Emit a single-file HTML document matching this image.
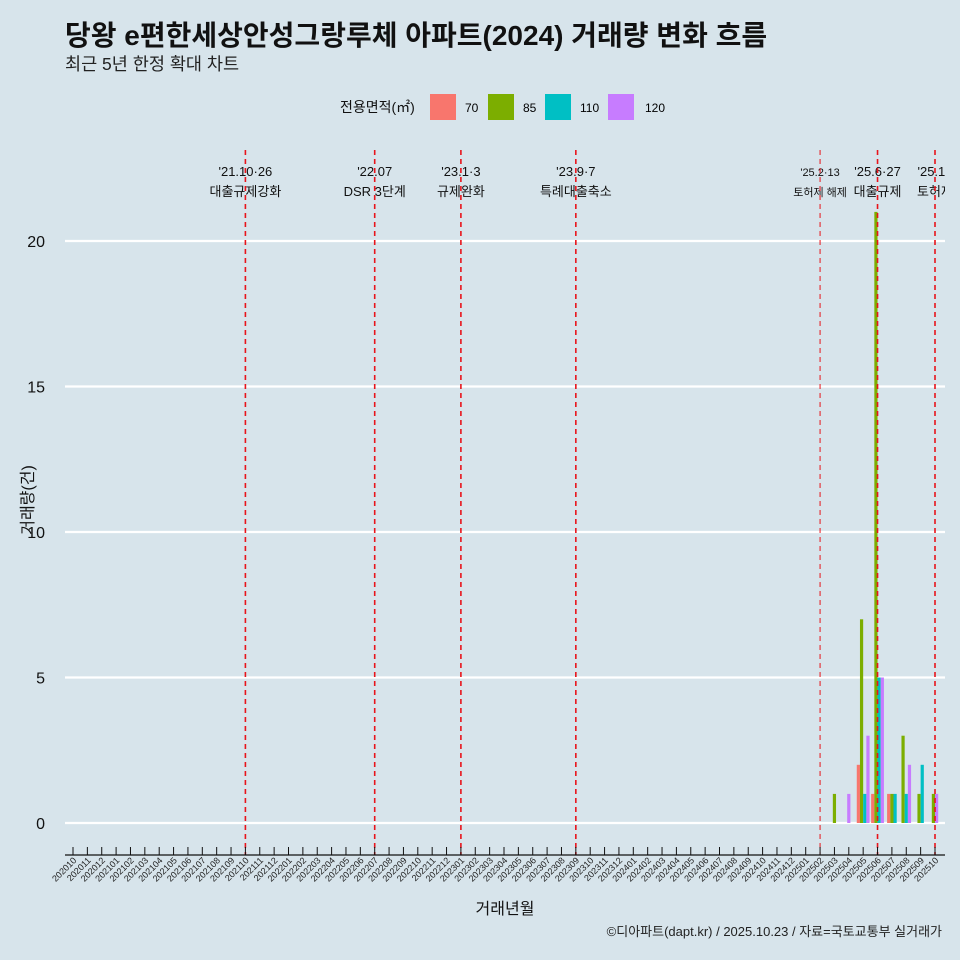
<!DOCTYPE html>
<html><head><meta charset="utf-8"><style>
html,body{margin:0;background:#d7e4eb;overflow:hidden;}
svg{display:block;}
svg text{font-family:"Liberation Sans","Noto Sans CJK KR",sans-serif;}
</style></head><body>
<svg id="c" width="960" height="960" xmlns="http://www.w3.org/2000/svg">
<defs><clipPath id="pc"><rect x="0" y="0" width="945" height="960"/></clipPath></defs>
<rect width="960" height="960" fill="#d7e4eb"/>
<text x="65" y="45" font-size="28" font-weight="bold" fill="#111">당왕 e편한세상안성그랑루체 아파트(2024) 거래량 변화 흐름</text>
<text x="65" y="70" font-size="17.5" fill="#222">최근 5년 한정 확대 차트</text>
<g>
<text x="340" y="112" font-size="14" fill="#111">전용면적(㎡)</text>
<rect x="430" y="94" width="26" height="26" fill="#F8766D"/>
<text x="465" y="112" font-size="12">70</text>
<rect x="488" y="94" width="26" height="26" fill="#7CAE00"/>
<text x="523" y="112" font-size="12">85</text>
<rect x="545" y="94" width="26" height="26" fill="#00BFC4"/>
<text x="580" y="112" font-size="12">110</text>
<rect x="608" y="94" width="26" height="26" fill="#C77CFF"/>
<text x="645" y="112" font-size="12">120</text>
</g>
<text transform="translate(33,500) rotate(-90)" text-anchor="middle" font-size="16" fill="#111">거래량(건)</text>
<text x="505" y="914" text-anchor="middle" font-size="16" fill="#111">거래년월</text>
<text x="942" y="936" text-anchor="end" font-size="13" fill="#222">©디아파트(dapt.kr) / 2025.10.23 / 자료=국토교통부 실거래가</text>
<g id="g"></g>
</svg>
<script>
const series=["70","85","110","120"];
const colors=["#F8766D","#7CAE00","#00BFC4","#C77CFF"];
const barMonths=["202503","202504","202505","202506","202507","202508","202509","202510"];
const v70=[0,0,2,1,1,0,0,0];
const v85=[1,0,7,21,1,3,1,1];
const v110=[0,0,1,5,1,1,2,0];
const v120=[0,1,3,5,0,2,0,1];
const yTicks=[0,5,10,15,20];
const eventMonths=["202110","202207","202301","202309","202502","202506","202510"];
const eventDates=["'21.10·26","'22.07","'23.1·3","'23.9·7","'25.2·13","'25.6·27","'25.10"];
const eventLabels=["대출규제강화","DSR 3단계","규제완화","특례대출축소","토허제 해제","대출규제","토허제"];
const months=[];
for(let y=2020;y<=2025;y++)for(let m=1;m<=12;m++){const k=y*100+m;if(k>=202010&&k<=202510)months.push(String(k));}
const NS="http://www.w3.org/2000/svg";
const g=document.getElementById('g');
function el(t,a,p){const e=document.createElementNS(NS,t);for(const k in a)e.setAttribute(k,a[k]);(p||g).appendChild(e);return e;}
const x0=73,x1=935,step=(x1-x0)/(months.length-1);
const xs=m=>x0+months.indexOf(m)*step;
const ys=v=>823-v*29.1;
yTicks.forEach(t=>{
 const l=el('line',{x1:65,x2:945,y1:ys(t),y2:ys(t),stroke:'#fff','stroke-width':2.2});
 
 const tx=el('text',{x:45,y:ys(t)+6,'text-anchor':'end','font-size':16,fill:'#111'});tx.textContent=t;
 
});
const vals=[v70,v85,v110,v120];const bw=3.2;
barMonths.forEach((m,i)=>{
 const present=[];vals.forEach((arr,s)=>{if(arr[i]>0)present.push(s);});
 const cx=xs(m);const start=cx-present.length*bw/2;
 present.forEach((s,j)=>{
  const r=el('rect',{x:start+j*bw,y:ys(vals[s][i]),width:bw,height:ys(0)-ys(vals[s][i]),fill:colors[s]});
  
 });
});
const lab=el('g',{'clip-path':'url(#pc)'});
eventMonths.forEach((m,i)=>{
 const x=xs(m);const thin=m==="202502";
 const l=el('line',{x1:x,x2:x,y1:150,y2:855,stroke:'#e8141b','stroke-width':thin?1:1.6,'stroke-dasharray':'5,4'});
 
 const fs=thin?11:13;
 const a=el('text',{x:x,y:176,'text-anchor':'middle','font-size':fs,fill:'#111'},lab);a.textContent=eventDates[i];
 
 const b=el('text',{x:x,y:196,'text-anchor':'middle','font-size':fs,fill:'#111'},lab);b.textContent=eventLabels[i];
 
});
const ax=el('line',{x1:65,x2:945,y1:855,y2:855,stroke:'#111','stroke-width':1.2});

months.forEach(m=>{
 const x=xs(m);
 const t=el('line',{x1:x,x2:x,y1:847,y2:855,stroke:'#111','stroke-width':1});
 
 const tx=el('text',{x:x+4,y:861,'text-anchor':'end','font-size':9,fill:'#222',transform:`rotate(-45 ${x+4} 861)`});tx.textContent=m;
 
});
</script>
</body></html>
